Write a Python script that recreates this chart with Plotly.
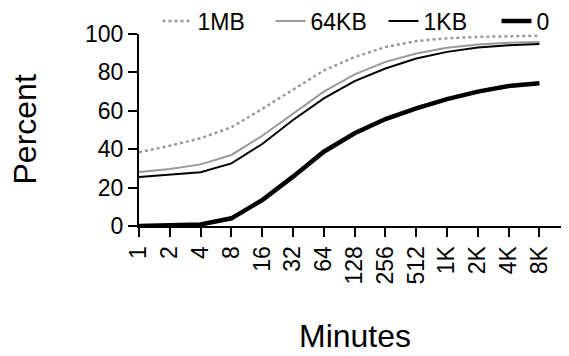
import plotly.graph_objects as go

x_labels = ["1", "2", "4", "8", "16", "32", "64", "128", "256", "512", "1K", "2K", "4K", "8K"]
mb1 = [38.4, 41.8, 45.7, 51.4, 61.0, 71.0, 81.0, 88.0, 93.2, 96.3, 97.8, 98.5, 98.9, 99.1]
kb64 = [28.1, 29.7, 32.1, 37.0, 47.0, 58.5, 70.0, 79.0, 85.5, 89.8, 92.8, 94.5, 95.4, 95.8]
kb1 = [25.5, 26.6, 28.0, 32.6, 42.7, 55.2, 66.5, 75.5, 82.0, 87.2, 90.7, 93.0, 94.2, 94.8]
zero = [0.0, 0.3, 0.8, 4.0, 13.5, 25.7, 38.7, 48.3, 55.7, 61.3, 66.1, 70.0, 72.9, 74.3]

xs = list(range(len(x_labels)))
FONT = "Arial, Liberation Sans, sans-serif"
# page body has an 8px default margin, so the figure is sized to fit the window
W, H = 561, 348

fig = go.Figure()
fig.add_trace(go.Scatter(x=xs, y=mb1, name="1MB", mode="lines",
                         line=dict(color="#999999", width=2.5, dash="dot")))
fig.add_trace(go.Scatter(x=xs, y=kb64, name="64KB", mode="lines",
                         line=dict(color="#999999", width=2)))
fig.add_trace(go.Scatter(x=xs, y=kb1, name="1KB", mode="lines",
                         line=dict(color="#000000", width=2)))
fig.add_trace(go.Scatter(x=xs, y=zero, name="0", mode="lines",
                         line=dict(color="#000000", width=4.5)))

fig.update_layout(
    template="none",
    width=W, height=H,
    margin=dict(l=0, r=0, t=0, b=0, pad=0, autoexpand=False),
    plot_bgcolor="white", paper_bgcolor="white",
    font=dict(family=FONT, color="black", size=23),
    showlegend=True,
    legend=dict(orientation="h", x=149.5 / W, y=1 - 13 / H, xanchor="left", yanchor="middle",
                font=dict(size=23, family=FONT), bgcolor="rgba(0,0,0,0)",
                itemwidth=30, tracegroupgap=0, entrywidth=68, entrywidthmode="pixels"),
    xaxis=dict(domain=[131 / W, 1], range=[0, 13.96], tickmode="array", tickvals=xs,
               ticktext=x_labels, tickangle=-90, showline=True, linecolor="black",
               linewidth=2, ticks="outside", ticklen=9, tickwidth=2, tickcolor="black",
               showgrid=False, zeroline=False, automargin=False, tickfont=dict(size=23)),
    yaxis=dict(domain=[130 / H, 322 / H], range=[0, 100], tickvals=[0, 20, 40, 60, 80, 100],
               showline=True, linecolor="black", linewidth=2,
               ticks="outside", ticklen=9, tickwidth=2, tickcolor="black",
               showgrid=False, zeroline=False, automargin=False, tickfont=dict(size=23)),
    annotations=[
        dict(text="Percent", xref="paper", yref="paper", x=16 / W, y=(H - 121.5) / H,
             textangle=-90, showarrow=False, font=dict(size=32, family=FONT),
             xanchor="center", yanchor="middle"),
        dict(text="Minutes", xref="paper", yref="paper", x=346.5 / W, y=(H - 327.5) / H,
             showarrow=False, font=dict(size=32, family=FONT),
             xanchor="center", yanchor="middle"),
    ],
)

fig.write_html("out.html")
